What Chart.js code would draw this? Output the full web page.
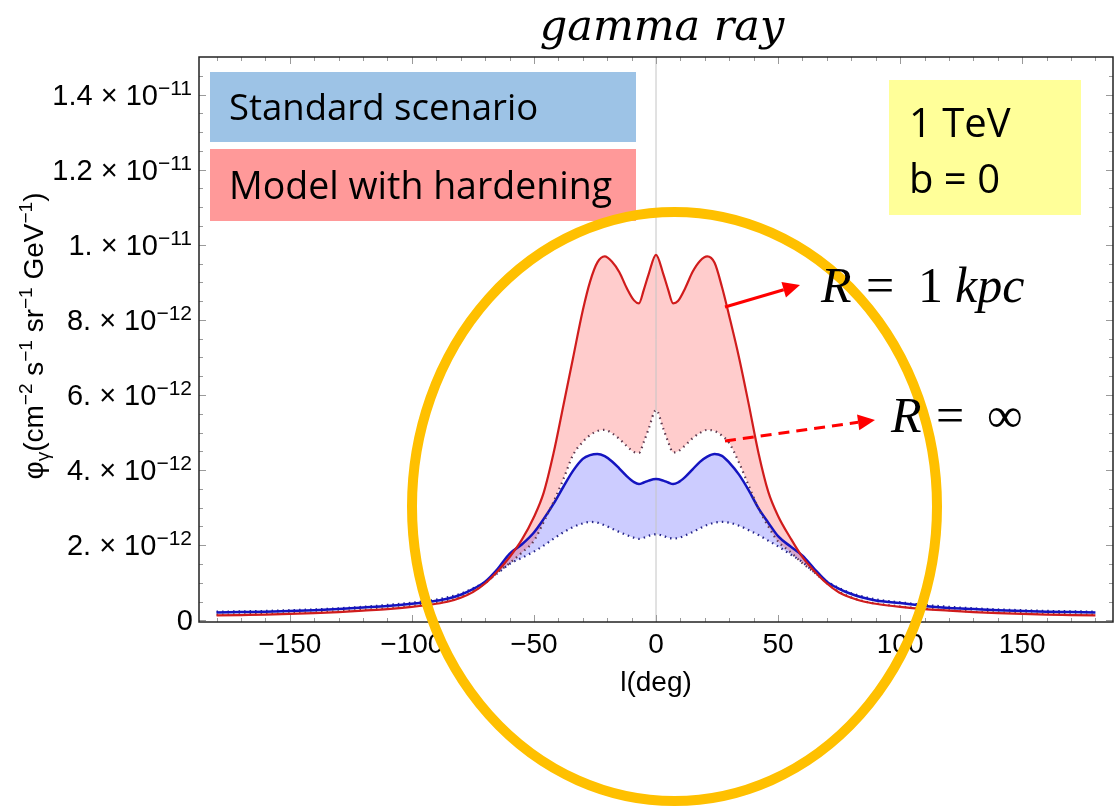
<!DOCTYPE html>
<html>
<head>
<meta charset="utf-8">
<title>gamma ray</title>
<script src="https://cdn.jsdelivr.net/npm/chart.js@4.4.1/dist/chart.umd.min.js"></script>
<style>
  html, body { margin: 0; padding: 0; background: #fff; }
  canvas { display: block; }
</style>
</head>
<body>
<canvas id="chart" width="1114" height="808"></canvas>
<script>
// galactic longitude l (deg)
var lon = [-180, -170, -160, -150, -140, -130, -120, -110, -100,
  -90, -85, -80, -75, -70, -65, -60, -55, -50,
  -46, -42, -38, -34, -30, -27, -24, -21, -18, -15, -12, -9, -7, -5, -3,
  0,
  3, 5, 7, 9, 12, 15, 18, 21, 24, 27, 30, 34, 38, 42, 46,
  50, 55, 60, 65, 70, 75, 80, 85, 90,
  100, 110, 120, 130, 140, 150, 160, 170, 180];

// flux at 1 TeV, b = 0, in units of 1e-12 cm^-2 s^-1 sr^-1 GeV^-1
// model with hardening, R = 1 kpc
var hardNear = [0.13, 0.14, 0.15, 0.17, 0.19, 0.22, 0.26, 0.30, 0.36,
  0.44, 0.50, 0.60, 0.75, 0.98, 1.30, 1.68, 2.14, 2.75,
  3.40, 4.44, 5.70, 6.98, 8.25, 9.02, 9.53, 9.69, 9.55, 9.27, 8.85, 8.52, 8.44, 8.80, 9.22,
  9.73,
  9.22, 8.80, 8.44, 8.50, 8.85, 9.28, 9.57, 9.69, 9.52, 8.88, 8.10, 7.00, 5.75, 4.45, 3.42,
  2.78, 2.20, 1.68, 1.30, 0.98, 0.74, 0.60, 0.50, 0.44,
  0.36, 0.30, 0.26, 0.22, 0.19, 0.17, 0.15, 0.14, 0.13];
// model with hardening, R = inf
var hardFar = [0.15, 0.16, 0.17, 0.19, 0.21, 0.24, 0.28, 0.32, 0.38,
  0.46, 0.52, 0.62, 0.77, 0.99, 1.27, 1.52, 1.80, 2.12,
  2.62, 3.15, 3.75, 4.40, 4.75, 4.93, 5.04, 5.07, 4.98, 4.83, 4.64, 4.48, 4.46, 4.75, 5.10,
  5.60,
  5.10, 4.75, 4.47, 4.50, 4.66, 4.85, 4.99, 5.07, 5.04, 4.92, 4.72, 4.20, 3.58, 2.98, 2.50,
  2.10, 1.82, 1.52, 1.27, 0.99, 0.76, 0.61, 0.51, 0.45,
  0.37, 0.31, 0.27, 0.23, 0.21, 0.19, 0.17, 0.16, 0.15];
// standard scenario, R = 1 kpc
var stdNear = [0.21, 0.22, 0.23, 0.25, 0.27, 0.30, 0.34, 0.38, 0.44,
  0.52, 0.58, 0.68, 0.83, 1.03, 1.36, 1.77, 2.02, 2.34,
  2.70, 3.10, 3.55, 3.98, 4.30, 4.40, 4.43, 4.37, 4.23, 4.04, 3.84, 3.68, 3.63, 3.67, 3.72,
  3.76,
  3.72, 3.67, 3.63, 3.67, 3.82, 4.02, 4.22, 4.36, 4.43, 4.38, 4.20, 3.88, 3.46, 2.98, 2.60,
  2.24, 1.97, 1.72, 1.36, 1.03, 0.84, 0.70, 0.60, 0.53,
  0.46, 0.38, 0.33, 0.30, 0.27, 0.25, 0.23, 0.22, 0.21];
// standard scenario, R = inf
var stdFar = [0.23, 0.24, 0.25, 0.27, 0.29, 0.32, 0.36, 0.41, 0.47,
  0.55, 0.62, 0.71, 0.85, 1.02, 1.25, 1.50, 1.66, 1.83,
  1.99, 2.17, 2.34, 2.48, 2.58, 2.62, 2.60, 2.53, 2.44, 2.35, 2.27, 2.20, 2.17, 2.20, 2.25,
  2.29,
  2.25, 2.20, 2.18, 2.19, 2.26, 2.35, 2.45, 2.54, 2.60, 2.62, 2.60, 2.52, 2.40, 2.27, 2.12,
  1.97, 1.76, 1.55, 1.27, 1.03, 0.86, 0.72, 0.63, 0.56,
  0.48, 0.41, 0.36, 0.32, 0.29, 0.27, 0.25, 0.24, 0.23];

var lonTicks = [-150, -100, -50, 0, 50, 100, 150];
var fluxTicks = [0, 2, 4, 6, 8, 10, 12, 14];
var fluxMant = ['0', '2.', '4.', '6.', '8.', '1.', '1.2', '1.4'];
var fluxExp = ['', '\u221212', '\u221212', '\u221212', '\u221212', '\u221211', '\u221211', '\u221211'];

var UNIT = 1e-12;
var SANS = '"Liberation Sans", Arial, sans-serif';

function pts(arr) {
  return lon.map(function (l, i) { return { x: l, y: arr[i] * UNIT }; });
}

// text made of runs with their own size and vertical shift
function drawRich(ctx, parts, x, y, align) {
  var w = 0;
  parts.forEach(function (p) {
    ctx.font = p.font;
    p.w = ctx.measureText(p.t).width;
    w += p.w;
  });
  var cx = align === 'right' ? x - w : (align === 'center' ? x - w / 2 : x);
  ctx.textAlign = 'left';
  parts.forEach(function (p) {
    ctx.font = p.font;
    ctx.fillText(p.t, cx, y + (p.dy || 0));
    cx += p.w;
  });
}

function arrow(ctx, x1, y1, x2, y2, dash) {
  var ang = Math.atan2(y2 - y1, x2 - x1), hl = 17, hw = 8;
  var bx = x2 - hl * Math.cos(ang), by = y2 - hl * Math.sin(ang);
  ctx.save();
  ctx.strokeStyle = '#ff0000';
  ctx.fillStyle = '#ff0000';
  ctx.lineWidth = 3;
  ctx.setLineDash(dash || []);
  ctx.beginPath();
  ctx.moveTo(x1, y1);
  ctx.lineTo(bx, by);
  ctx.stroke();
  ctx.setLineDash([]);
  ctx.beginPath();
  ctx.moveTo(x2, y2);
  ctx.lineTo(bx + hw * Math.sin(ang), by - hw * Math.cos(ang));
  ctx.lineTo(bx - hw * Math.sin(ang), by + hw * Math.cos(ang));
  ctx.closePath();
  ctx.fill();
  ctx.restore();
}

var decor = {
  id: 'decor',
  beforeDatasetsDraw: function (chart) {
    var ctx = chart.ctx, a = chart.chartArea;
    var x0 = chart.scales.x.getPixelForValue(0);
    ctx.save();
    ctx.strokeStyle = '#c4c4c4';
    ctx.lineWidth = 1;
    ctx.beginPath();
    ctx.moveTo(x0, a.top);
    ctx.lineTo(x0, a.bottom);
    ctx.stroke();
    ctx.restore();
  },
  afterDatasetsDraw: function (chart) {
    var ctx = chart.ctx, a = chart.chartArea, xs = chart.scales.x, ys = chart.scales.y;
    var v, px, py, len;
    ctx.save();
    ctx.strokeStyle = '#9a9a9a';
    ctx.lineWidth = 1;
    ctx.beginPath();
    for (v = -180; v <= 180; v += 10) {
      px = Math.round(xs.getPixelForValue(v)) + 0.5;
      len = v % 50 === 0 ? 7 : 4;
      ctx.moveTo(px, a.bottom); ctx.lineTo(px, a.bottom - len);
      ctx.moveTo(px, a.top); ctx.lineTo(px, a.top + len);
    }
    for (v = 0; v <= 14.5; v += 0.5) {
      py = Math.round(ys.getPixelForValue(v * UNIT)) + 0.5;
      len = v % 2 === 0 ? 7 : 4;
      ctx.moveTo(a.left, py); ctx.lineTo(a.left + len, py);
      ctx.moveTo(a.right, py); ctx.lineTo(a.right - len, py);
    }
    ctx.stroke();
    ctx.strokeStyle = '#222';
    ctx.lineWidth = 1.5;
    ctx.strokeRect(a.left, a.top, a.right - a.left, a.bottom - a.top);
    ctx.restore();
  },
  afterDraw: function (chart) {
    var ctx = chart.ctx, ys = chart.scales.y, xs = chart.scales.x;
    ctx.save();
    ctx.fillStyle = '#000';
    ctx.textBaseline = 'alphabetic';

    // y tick labels, mantissa x 10^exp
    fluxTicks.forEach(function (t, i) {
      var py = ys.getPixelForValue(t * UNIT);
      if (fluxExp[i] === '') {
        drawRich(ctx, [{ t: fluxMant[i], font: '29px ' + SANS }], 193, py + 10, 'right');
      } else {
        drawRich(ctx, [
          { t: fluxMant[i] + ' \u00d7 10', font: '29px ' + SANS },
          { t: fluxExp[i], font: '21px ' + SANS, dy: -10 }
        ], 192, py + 10, 'right');
      }
    });

    // y axis title
    ctx.save();
    ctx.translate(43, 336);
    ctx.rotate(-Math.PI / 2);
    var big = '28px ' + SANS, small = '19px ' + SANS;
    drawRich(ctx, [
      { t: '\u03c6', font: big },
      { t: '\u03b3', font: small, dy: 6 },
      { t: '(cm', font: big },
      { t: '\u22122', font: small, dy: -11 },
      { t: ' s', font: big },
      { t: '\u22121', font: small, dy: -11 },
      { t: ' sr', font: big },
      { t: '\u22121', font: small, dy: -11 },
      { t: ' GeV', font: big },
      { t: '\u22121', font: small, dy: -11 },
      { t: ')', font: big }
    ], 0, 0, 'center');
    ctx.restore();

    // x axis title
    drawRich(ctx, [{ t: 'l(deg)', font: '28px ' + SANS }], xs.getPixelForValue(0), 691, 'center');

    // title
    ctx.font = 'italic 43px "DejaVu Serif", serif';
    ctx.textAlign = 'center';
    ctx.fillText('gamma ray', 662, 40);

    // scenario boxes
    ctx.textAlign = 'left';
    ctx.fillStyle = '#9dc3e6';
    ctx.fillRect(210, 72, 426, 70);
    ctx.fillStyle = '#ff9999';
    ctx.fillRect(210, 149, 426, 72);
    ctx.fillStyle = '#ffff99';
    ctx.fillRect(889, 80, 192, 135);
    ctx.fillStyle = '#000';
    ctx.font = '36.5px "Open Sans", sans-serif';
    ctx.fillText('Standard scenario', 229, 120);
    ctx.font = '37.5px "Open Sans", sans-serif';
    ctx.fillText('Model with hardening', 229, 199);
    ctx.font = '40px "Open Sans", sans-serif';
    ctx.fillText('1 TeV', 909, 137);
    ctx.fillText('b = 0', 909, 193);

    // orange ring around the central region
    ctx.strokeStyle = '#ffc000';
    ctx.lineWidth = 10;
    ctx.beginPath();
    ctx.ellipse(674.5, 506.5, 262.5, 294.5, 0, 0, Math.PI * 2);
    ctx.stroke();

    // arrows and their labels
    arrow(ctx, 725, 307, 800, 285);
    arrow(ctx, 725, 441, 875, 420, [11, 7]);
    var it = 'italic 50px "Liberation Serif", serif', up = '50px "Liberation Serif", serif';
    ctx.fillStyle = '#000';
    ctx.font = it; ctx.fillText('R', 821, 302);
    ctx.font = up; ctx.fillText('=', 866, 302);
    ctx.font = up; ctx.fillText('1', 918, 302);
    ctx.font = it; ctx.fillText('kpc', 955, 302);
    ctx.font = it; ctx.fillText('R', 891, 432);
    ctx.font = up; ctx.fillText('=', 936, 432);
    ctx.font = up; ctx.fillText('\u221e', 987, 432);
    ctx.restore();
  }
};

new Chart(document.getElementById('chart'), {
  type: 'line',
  data: {
    datasets: [
      {
        label: 'Model with hardening, R = 1 kpc',
        data: pts(hardNear),
        borderColor: '#d01c1c',
        borderWidth: 2.2,
        backgroundColor: 'rgba(255, 0, 0, 0.2)',
        fill: '+1'
      },
      {
        label: 'Model with hardening, R = \u221e',
        data: pts(hardFar),
        borderColor: '#5e3a50',
        borderWidth: 2.2,
        borderDash: [1.5, 4],
        fill: false
      },
      {
        label: 'Standard scenario, R = 1 kpc',
        data: pts(stdNear),
        borderColor: '#1414c0',
        borderWidth: 2.5,
        backgroundColor: 'rgba(0, 0, 255, 0.2)',
        fill: '+1'
      },
      {
        label: 'Standard scenario, R = \u221e',
        data: pts(stdFar),
        borderColor: '#26268a',
        borderWidth: 2.2,
        borderDash: [1.5, 4],
        fill: false
      }
    ]
  },
  options: {
    responsive: false,
    animation: false,
    devicePixelRatio: 1,
    layout: { padding: { top: 57, right: 1, bottom: 126, left: 0 } },
    elements: {
      point: { radius: 0 },
      line: { cubicInterpolationMode: 'monotone' }
    },
    plugins: {
      legend: { display: false },
      tooltip: { enabled: false },
      filler: { drawTime: 'beforeDatasetsDraw' }
    },
    scales: {
      x: {
        type: 'linear',
        min: -187.2,
        max: 187.2,
        grid: { display: false, drawTicks: false },
        border: { display: false },
        afterBuildTicks: function (scale) {
          scale.ticks = lonTicks.map(function (v) { return { value: v }; });
        },
        afterFit: function (scale) { scale.height = 60; },
        ticks: {
          padding: 6,
          color: '#000',
          font: { family: SANS, size: 28 },
          callback: function (v) { return v < 0 ? '\u2212' + Math.abs(v) : String(v); }
        }
      },
      y: {
        type: 'linear',
        min: -0.045e-12,
        max: 15.0e-12,
        grid: { display: false, drawTicks: false },
        border: { display: false },
        ticks: { display: false },
        afterFit: function (scale) { scale.width = 199; }
      }
    }
  },
  plugins: [decor]
});
</script>
</body>
</html>
